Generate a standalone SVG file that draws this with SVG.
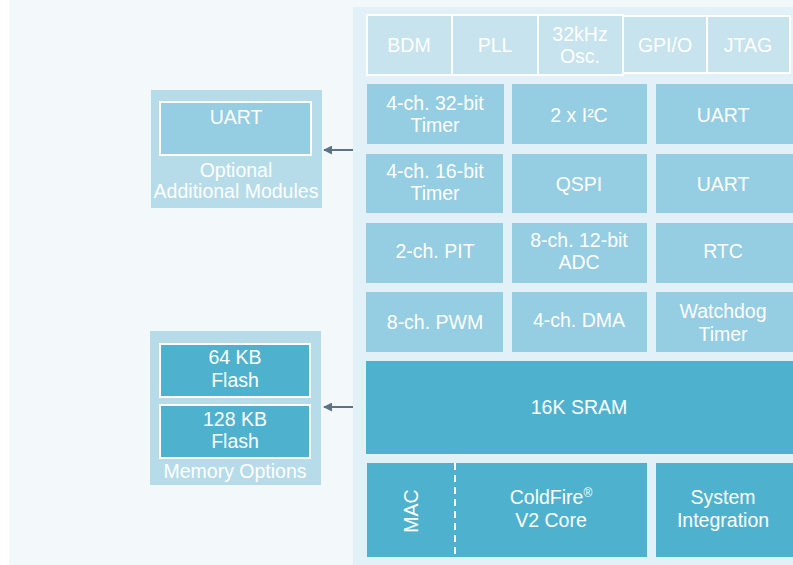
<svg xmlns="http://www.w3.org/2000/svg" width="793" height="565" viewBox="0 0 793 565">
  <style>
    text { font-family: "Liberation Sans", Arial, sans-serif; font-size: 19.5px; fill: #ffffff; text-anchor: middle; }
    .strip { fill: #c6e3ee; stroke: #ffffff; stroke-width: 2; }
    .cell { fill: #95cde2; }
    .dark { fill: #4eb2cf; }
    .outer { fill: #b6dcea; }
    .inner { stroke: #ffffff; stroke-width: 2; }
    .conn { stroke: #5b7383; stroke-width: 2; fill: none; }
  </style>
  <defs>
    <marker id="arrow" viewBox="0 0 10 10" refX="9" refY="5" markerWidth="4.5" markerHeight="4.5" orient="auto" markerUnits="strokeWidth">
      <path d="M0,0 L10,5 L0,10 Z" fill="#5b7383"/>
    </marker>
  </defs>

  <!-- backgrounds -->
  <rect x="0" y="0" width="793" height="565" fill="#ffffff"/>
  <rect x="9" y="0" width="784" height="565" fill="#f3f9fa"/>
  <rect id="chip" x="353" y="7" width="440" height="558" fill="#e2f0f7"/>

  <!-- top strip -->
  <g id="bdm"><rect class="strip" x="367" y="15" width="85" height="60"/><text x="409" y="52">BDM</text></g>
  <g id="pll"><rect class="strip" x="452" y="15" width="86" height="60"/><text x="495" y="52">PLL</text></g>
  <g id="osc"><rect class="strip" x="538" y="15" width="85" height="60"/><text x="580" y="41">32kHz</text><text x="580" y="63">Osc.</text></g>
  <g id="gpio"><rect class="strip" x="623" y="16" width="84" height="57"/><text x="665" y="52">GPI/O</text></g>
  <g id="jtag"><rect class="strip" x="707" y="16" width="83" height="57"/><text x="748" y="52">JTAG</text></g>

  <!-- peripheral grid, row 1 -->
  <g id="timer32"><rect class="cell" x="367" y="84" width="137" height="60"/><text x="435" y="110">4-ch. 32-bit</text><text x="435" y="132">Timer</text></g>
  <g id="i2c"><rect class="cell" x="512" y="84" width="135" height="60"/><text x="579" y="122">2 x I²C</text></g>
  <g id="uart1"><rect class="cell" x="656" y="84" width="137" height="60"/><text x="723" y="122">UART</text></g>

  <!-- row 2 -->
  <g id="timer16"><rect class="cell" x="366" y="154" width="137" height="59"/><text x="435" y="178">4-ch. 16-bit</text><text x="435" y="200">Timer</text></g>
  <g id="qspi"><rect class="cell" x="512" y="154" width="135" height="59"/><text x="579" y="191">QSPI</text></g>
  <g id="uart2"><rect class="cell" x="656" y="154" width="137" height="59"/><text x="723" y="191">UART</text></g>

  <!-- row 3 -->
  <g id="pit"><rect class="cell" x="366" y="223" width="137" height="60"/><text x="435" y="258">2-ch. PIT</text></g>
  <g id="adc"><rect class="cell" x="512" y="223" width="135" height="60"/><text x="579" y="247">8-ch. 12-bit</text><text x="579" y="269">ADC</text></g>
  <g id="rtc"><rect class="cell" x="656" y="223" width="137" height="60"/><text x="723" y="258">RTC</text></g>

  <!-- row 4 -->
  <g id="pwm"><rect class="cell" x="366" y="292" width="137" height="60"/><text x="435" y="329">8-ch. PWM</text></g>
  <g id="dma"><rect class="cell" x="512" y="292" width="135" height="60"/><text x="579" y="327">4-ch. DMA</text></g>
  <g id="watchdog"><rect class="cell" x="656" y="292" width="137" height="60"/><text x="723" y="318">Watchdog</text><text x="723" y="341">Timer</text></g>

  <!-- memory -->
  <g id="sram"><rect class="dark" x="366" y="361" width="427" height="93"/><text x="579" y="414">16K SRAM</text></g>

  <!-- core -->
  <g id="core">
    <rect class="dark" x="367" y="463" width="280" height="94"/>
    <line x1="455" y1="463" x2="455" y2="557" stroke="#ffffff" stroke-width="2" stroke-dasharray="7 5"/>
    <text transform="translate(418 511) rotate(-90)">MAC</text>
    <text x="551" y="504">ColdFire<tspan font-size="12" dy="-7">®</tspan></text>
    <text x="551" y="527">V2 Core</text>
  </g>
  <g id="sysint"><rect class="dark" x="656" y="463" width="137" height="94"/><text x="723" y="504">System</text><text x="723" y="527">Integration</text></g>

  <!-- optional modules -->
  <g id="optional">
    <rect class="outer" x="151" y="90" width="171" height="118"/>
    <rect class="cell inner" x="160" y="102" width="151" height="53"/>
    <text x="236" y="124">UART</text>
    <text x="236" y="177">Optional</text>
    <text x="236" y="198">Additional Modules</text>
  </g>

  <!-- memory options -->
  <g id="memopts">
    <rect class="outer" x="150" y="331" width="171" height="154"/>
    <rect class="dark inner" x="160" y="344" width="150" height="53"/>
    <text x="235" y="364">64 KB</text>
    <text x="235" y="387">Flash</text>
    <rect class="dark inner" x="160" y="405" width="150" height="53"/>
    <text x="235" y="426">128 KB</text>
    <text x="235" y="448">Flash</text>
    <text x="235" y="478">Memory Options</text>
  </g>

  <!-- connectors -->
  <g id="connectors">
    <line class="conn" x1="353" y1="150" x2="324" y2="150" marker-end="url(#arrow)"/>
    <line class="conn" x1="353" y1="407" x2="324" y2="407" marker-end="url(#arrow)"/>
  </g>
</svg>
